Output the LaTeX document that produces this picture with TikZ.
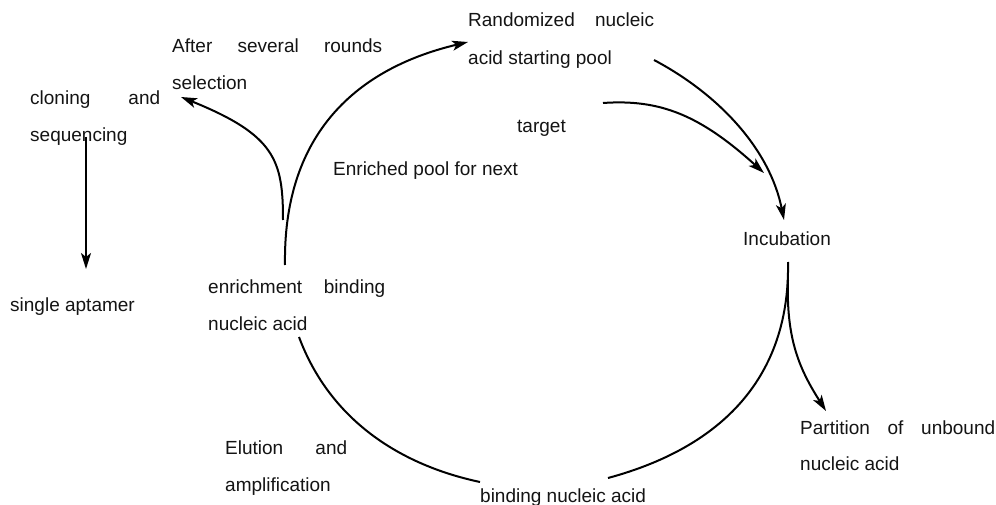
\documentclass[tikz,border=0pt]{standalone}
\usepackage{fontspec}
\setmainfont{Liberation Sans}
\usetikzlibrary{arrows.meta}
\begin{document}
\begin{tikzpicture}[x=1pt,y=-1pt,
  lbl/.style={anchor=base west, inner sep=0pt, font=\fontsize{19}{22}\selectfont, text=black!92},
  conn/.style={line width=2pt, draw=black},
  arr/.style={conn, -{Stealth[length=16pt,width=10pt,inset=4pt]}}]
\useasboundingbox[fill=white] (0,0) rectangle (996,505);
% labels
\node[lbl] (rnd1) at (468,27) {\makebox[186pt][s]{Randomized nucleic}};
\node[lbl] (rnd2) at (468,65) {acid starting pool};
\node[lbl] (aft1) at (172,53) {\makebox[210pt][s]{After several rounds}};
\node[lbl] (aft2) at (172,90) {selection};
\node[lbl] (clo1) at (30,105) {\makebox[130pt][s]{cloning and}};
\node[lbl] (clo2) at (30,142) {sequencing};
\node[lbl] (enr) at (333,176) {Enriched pool for next};
\node[lbl] (tgt) at (517,133) {target};
\node[lbl] (inc) at (743,245) {Incubation};
\node[lbl] (sgl) at (10,311) {single aptamer};
\node[lbl] (enb1) at (208,293) {\makebox[177pt][s]{enrichment binding}};
\node[lbl] (enb2) at (208,330) {nucleic acid};
\node[lbl] (elu1) at (225,454) {\makebox[122pt][s]{Elution and}};
\node[lbl] (elu2) at (225,491) {amplification};
\node[lbl] (bnd) at (480,502) {binding nucleic acid};
\node[lbl] (par1) at (800,434) {\makebox[195pt][s]{Partition of unbound}};
\node[lbl] (par2) at (800,470) {nucleic acid};
% connector ends
\coordinate (sq0) at (86,137);
\coordinate (sq1) at (86,269);
\coordinate (af0) at (283,220);
\coordinate (af1) at (181,97);
\coordinate (la0) at (285,265);
\coordinate (la1) at (468,42);
\coordinate (tr0) at (654,60);
\coordinate (tr1) at (784,220);
\coordinate (tg0) at (603,103);
\coordinate (tg1) at (764,173);
\coordinate (rl0) at (788,262);
\coordinate (rl1) at (608,478);
\coordinate (pa0) at (788,280);
\coordinate (pa1) at (826,411);
\coordinate (ll0) at (299,337);
\coordinate (ll1) at (480,482);
% connectors
\draw[arr] (sq0) -- (sq1);
\draw[arr] (af0) .. controls (283,160) and (275,135) .. (af1);
\draw[arr] (la0) .. controls (283,140) and (350,70) .. (la1);
\draw[arr] (tr0) .. controls (720,95) and (770,150) .. (tr1);
\draw[arr] (tg0) .. controls (660,99) and (700,115) .. (tg1);
\draw[conn] (rl0) .. controls (790,370) and (730,445) .. (rl1);
\draw[arr] (pa0) .. controls (786,340) and (800,370) .. (pa1);
\draw[conn] (ll0) .. controls (330,420) and (400,465) .. (ll1);
\end{tikzpicture}
\end{document}
